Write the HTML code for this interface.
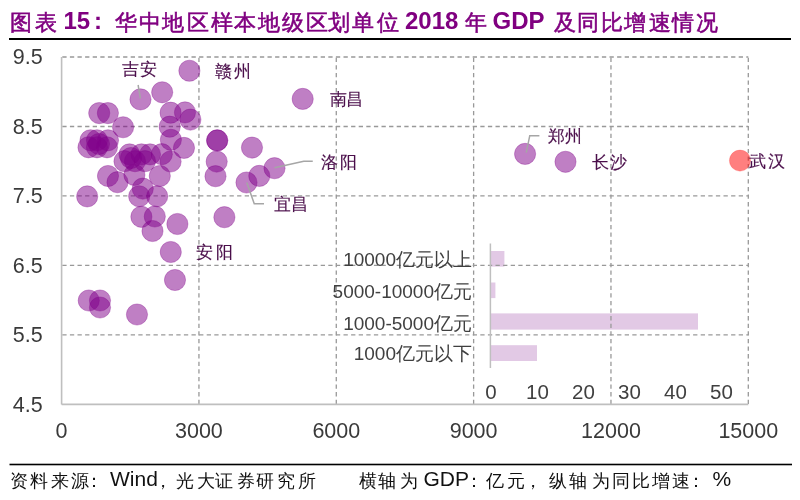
<!DOCTYPE html>
<html><head><meta charset="utf-8"><style>
html,body{margin:0;padding:0;background:#fff;width:800px;height:500px;overflow:hidden}
svg{position:absolute;left:0;top:0;will-change:transform}
text{font-family:"Liberation Sans",sans-serif}
</style></head><body>
<svg width="800" height="500" viewBox="0 0 800 500">
<rect width="800" height="500" fill="#fff"/>
<g fill="#800080" font-size="22" stroke="#800080" stroke-width="0.55">
<text x="21.3" y="30.4" text-anchor="middle">图</text><text x="45.7" y="30.4" text-anchor="middle">表</text><text x="63.5" y="29" font-weight="bold" font-size="24" stroke="none">15</text><text x="94" y="29" font-weight="bold" font-size="24" stroke="none">:</text><text x="126.0" y="30.4" text-anchor="middle">华</text><text x="149.6" y="30.4" text-anchor="middle">中</text><text x="173.3" y="30.4" text-anchor="middle">地</text><text x="198.0" y="30.4" text-anchor="middle">区</text><text x="221.5" y="30.4" text-anchor="middle">样</text><text x="245.3" y="30.4" text-anchor="middle">本</text><text x="268.5" y="30.4" text-anchor="middle">地</text><text x="292.5" y="30.4" text-anchor="middle">级</text><text x="316.5" y="30.4" text-anchor="middle">区</text><text x="339.0" y="30.4" text-anchor="middle">划</text><text x="362.5" y="30.4" text-anchor="middle">单</text><text x="388.0" y="30.4" text-anchor="middle">位</text><text x="405" y="29" font-weight="bold" font-size="24" stroke="none">2018</text><text x="476.0" y="30.4" text-anchor="middle">年</text><text x="492.5" y="29" font-weight="bold" font-size="24" stroke="none">GDP</text><text x="565.3" y="30.4" text-anchor="middle">及</text><text x="588.4" y="30.4" text-anchor="middle">同</text><text x="611.5" y="30.4" text-anchor="middle">比</text><text x="635.0" y="30.4" text-anchor="middle">增</text><text x="659.8" y="30.4" text-anchor="middle">速</text><text x="682.9" y="30.4" text-anchor="middle">情</text><text x="706.5" y="30.4" text-anchor="middle">况</text>
</g>
<rect x="9" y="38" width="782" height="2" fill="#000"/>
<g fill="#e2c9e5">
<rect x="490.4" y="251" width="14" height="15.6"/>
<rect x="490.4" y="282.5" width="5" height="15.6"/>
<rect x="490.4" y="313.4" width="207.6" height="16.2"/>
<rect x="490.4" y="345.2" width="46.6" height="15.8"/>
</g>
<g stroke="#999" stroke-width="1.3" stroke-dasharray="4.3 3.3" stroke-dashoffset="-0.7" fill="none">
<line x1="198.94" y1="57" x2="198.94" y2="404.4"/>
<line x1="336.28" y1="57" x2="336.28" y2="404.4"/>
<line x1="473.62" y1="57" x2="473.62" y2="404.4"/>
<line x1="610.96" y1="57" x2="610.96" y2="404.4"/>
<line x1="748.30" y1="57" x2="748.30" y2="404.4"/>
<line x1="61.6" y1="57.00" x2="748.3" y2="57.00"/>
<line x1="61.6" y1="126.48" x2="748.3" y2="126.48"/>
<line x1="61.6" y1="195.96" x2="748.3" y2="195.96"/>
<line x1="61.6" y1="265.44" x2="748.3" y2="265.44"/>
<line x1="61.6" y1="334.92" x2="748.3" y2="334.92"/>
</g>
<g stroke="#bfbfbf" stroke-width="1.6" fill="none">
<line x1="61.6" y1="57" x2="61.6" y2="404.4"/>
<line x1="61.6" y1="404.4" x2="748.3" y2="404.4"/>
</g>
<g fill="#3a3a3a" font-size="21.5">
<text x="27.7" y="64.2" text-anchor="middle">9.5</text><text x="27.7" y="133.7" text-anchor="middle">8.5</text><text x="27.7" y="203.2" text-anchor="middle">7.5</text><text x="27.7" y="272.6" text-anchor="middle">6.5</text><text x="27.7" y="342.1" text-anchor="middle">5.5</text><text x="27.7" y="411.6" text-anchor="middle">4.5</text>
<text x="61.6" y="438.3" text-anchor="middle">0</text><text x="198.9" y="438.3" text-anchor="middle">3000</text><text x="336.3" y="438.3" text-anchor="middle">6000</text><text x="473.6" y="438.3" text-anchor="middle">9000</text><text x="611.0" y="438.3" text-anchor="middle">12000</text><text x="748.3" y="438.3" text-anchor="middle">15000</text>
</g>
<line x1="490.4" y1="243.5" x2="490.4" y2="368" stroke="#bfbfbf" stroke-width="1.5"/>
<g fill="#404040" font-size="19" text-anchor="end">
<text x="472" y="266">10000亿元以上</text>
<text x="472" y="298">5000-10000亿元</text>
<text x="472" y="329.5">1000-5000亿元</text>
<text x="472" y="360">1000亿元以下</text>
</g>
<g fill="#404040" font-size="20.5" text-anchor="middle">
<text x="491" y="399.3">0</text>
<text x="537.5" y="399.3">10</text>
<text x="583.5" y="399.3">20</text>
<text x="629.5" y="399.3">30</text>
<text x="675.5" y="399.3">40</text>
<text x="721.5" y="399.3">50</text>
</g>
<g fill="rgba(128,0,138,0.5)" stroke="rgba(128,0,138,0.35)" stroke-width="0.9">
<circle cx="189.4" cy="70.75" r="10.6"/>
<circle cx="140.5" cy="99.4" r="10.6"/>
<circle cx="162.2" cy="92.3" r="10.6"/>
<circle cx="302.7" cy="98.9" r="10.6"/>
<circle cx="99.25" cy="113.1" r="10.6"/>
<circle cx="107.9" cy="113.1" r="10.6"/>
<circle cx="170.6" cy="112.7" r="10.6"/>
<circle cx="185" cy="112.4" r="10.6"/>
<circle cx="190.4" cy="119.6" r="10.6"/>
<circle cx="123.1" cy="127.25" r="10.6"/>
<circle cx="169.7" cy="126.7" r="10.6"/>
<circle cx="170.9" cy="139.8" r="10.6"/>
<circle cx="217.2" cy="140.4" r="10.6"/>
<circle cx="217.2" cy="140.4" r="10.6"/>
<circle cx="184" cy="147.9" r="10.6"/>
<circle cx="252" cy="147.6" r="10.6"/>
<circle cx="170.6" cy="161.5" r="10.6"/>
<circle cx="216.7" cy="161.6" r="10.6"/>
<circle cx="161.8" cy="154.2" r="10.6"/>
<circle cx="215.5" cy="176.2" r="10.6"/>
<circle cx="274.5" cy="168.2" r="10.6"/>
<circle cx="259.3" cy="175.9" r="10.6"/>
<circle cx="246.5" cy="182.5" r="10.6"/>
<circle cx="224.4" cy="217.2" r="10.6"/>
<circle cx="159.8" cy="176" r="10.6"/>
<circle cx="87.2" cy="196.4" r="10.6"/>
<circle cx="108" cy="176" r="10.6"/>
<circle cx="117.5" cy="182.2" r="10.6"/>
<circle cx="134.4" cy="174.9" r="10.6"/>
<circle cx="139.2" cy="196.3" r="10.6"/>
<circle cx="142.8" cy="188.6" r="10.6"/>
<circle cx="157.2" cy="196.3" r="10.6"/>
<circle cx="141.4" cy="216.8" r="10.6"/>
<circle cx="154.8" cy="216.5" r="10.6"/>
<circle cx="152.5" cy="231" r="10.6"/>
<circle cx="177.4" cy="224" r="10.6"/>
<circle cx="170.75" cy="252" r="10.6"/>
<circle cx="175" cy="280" r="10.6"/>
<circle cx="88.75" cy="300.5" r="10.6"/>
<circle cx="100" cy="300.5" r="10.6"/>
<circle cx="100" cy="307.5" r="10.6"/>
<circle cx="137" cy="314.5" r="10.6"/>
<circle cx="525.1" cy="153.9" r="10.6"/>
<circle cx="565.5" cy="161.8" r="10.6"/>
<circle cx="90.5" cy="140.3" r="10.6"/>
<circle cx="97" cy="140.3" r="10.6"/>
<circle cx="108" cy="140.3" r="10.6"/>
<circle cx="88.5" cy="147.3" r="10.6"/>
<circle cx="97" cy="147.3" r="10.6"/>
<circle cx="107" cy="147.3" r="10.6"/>
<circle cx="99" cy="144" r="10.6"/>
<circle cx="129.5" cy="154.4" r="10.6"/>
<circle cx="141.5" cy="154.4" r="10.6"/>
<circle cx="150" cy="154.4" r="10.6"/>
<circle cx="124.5" cy="161.2" r="10.6"/>
<circle cx="135" cy="161.2" r="10.6"/>
<circle cx="145" cy="161.2" r="10.6"/>
<circle cx="131" cy="158" r="10.6"/>
</g>
<circle cx="740" cy="160.6" r="10.6" fill="rgba(255,0,0,0.5)" stroke="rgba(255,0,0,0.2)" stroke-width="0.8"/>
<g stroke="#a6a6a6" stroke-width="1.5" fill="none">
<polyline points="138.1,85 140.4,98.5"/>
<polyline points="274.5,167.8 303.75,161.2 312.75,161.2"/>
<polyline points="246.75,182.5 254.25,203.8 264,203.8"/>
<polyline points="526.25,152.6 529.75,135.65 539.4,135.65"/>
</g>
<g fill="#4b0f4b" font-size="17" stroke="#4b0f4b" stroke-width="0.15">
<text x="130.4" y="74.9" text-anchor="middle">吉</text><text x="148.7" y="74.9" text-anchor="middle">安</text><text x="223.2" y="76.8" text-anchor="middle">赣</text><text x="242.1" y="76.8" text-anchor="middle">州</text><text x="338.2" y="104.5" text-anchor="middle">南</text><text x="354.8" y="104.5" text-anchor="middle">昌</text><text x="329.9" y="168.1" text-anchor="middle">洛</text><text x="348.1" y="168.1" text-anchor="middle">阳</text><text x="282.7" y="210.1" text-anchor="middle">宜</text><text x="299.3" y="210.1" text-anchor="middle">昌</text><text x="204.2" y="258.0" text-anchor="middle">安</text><text x="224.3" y="258.0" text-anchor="middle">阳</text><text x="556.2" y="142.0" text-anchor="middle">郑</text><text x="573.8" y="142.0" text-anchor="middle">州</text><text x="600.1" y="168.0" text-anchor="middle">长</text><text x="618.7" y="168.0" text-anchor="middle">沙</text><text x="757.6" y="167.1" text-anchor="middle">武</text><text x="776.8" y="167.1" text-anchor="middle">汉</text>
</g>
<rect x="9.5" y="463.7" width="782.5" height="1.6" fill="#000"/>
<g fill="#111" font-size="18">
<text x="18.5" y="486.8" text-anchor="middle">资</text><text x="39.0" y="486.8" text-anchor="middle">料</text><text x="60.0" y="486.8" text-anchor="middle">来</text><text x="80.0" y="486.8" text-anchor="middle">源</text><text x="94.2" y="486.8" text-anchor="middle">：</text><text x="110" y="486" font-size="21">Wind</text><text x="163.0" y="486.8" text-anchor="middle">，</text><text x="185.0" y="486.8" text-anchor="middle">光</text><text x="205.5" y="486.8" text-anchor="middle">大</text><text x="224.4" y="486.8" text-anchor="middle">证</text><text x="245.6" y="486.8" text-anchor="middle">券</text><text x="265.0" y="486.8" text-anchor="middle">研</text><text x="285.6" y="486.8" text-anchor="middle">究</text><text x="306.9" y="486.8" text-anchor="middle">所</text><text x="367.5" y="486.8" text-anchor="middle">横</text><text x="386.9" y="486.8" text-anchor="middle">轴</text><text x="408.5" y="486.8" text-anchor="middle">为</text><text x="423.5" y="486" font-size="21">GDP</text><text x="473.8" y="486.8" text-anchor="middle">：</text><text x="495.0" y="486.8" text-anchor="middle">亿</text><text x="516.2" y="486.8" text-anchor="middle">元</text><text x="533.0" y="486.8" text-anchor="middle">，</text><text x="557.5" y="486.8" text-anchor="middle">纵</text><text x="577.5" y="486.8" text-anchor="middle">轴</text><text x="601.0" y="486.8" text-anchor="middle">为</text><text x="620.6" y="486.8" text-anchor="middle">同</text><text x="641.0" y="486.8" text-anchor="middle">比</text><text x="660.6" y="486.8" text-anchor="middle">增</text><text x="681.0" y="486.8" text-anchor="middle">速</text><text x="695.5" y="486.8" text-anchor="middle">：</text><text x="712.5" y="486" font-size="21">%</text>
</g>
</svg>
</body></html>
